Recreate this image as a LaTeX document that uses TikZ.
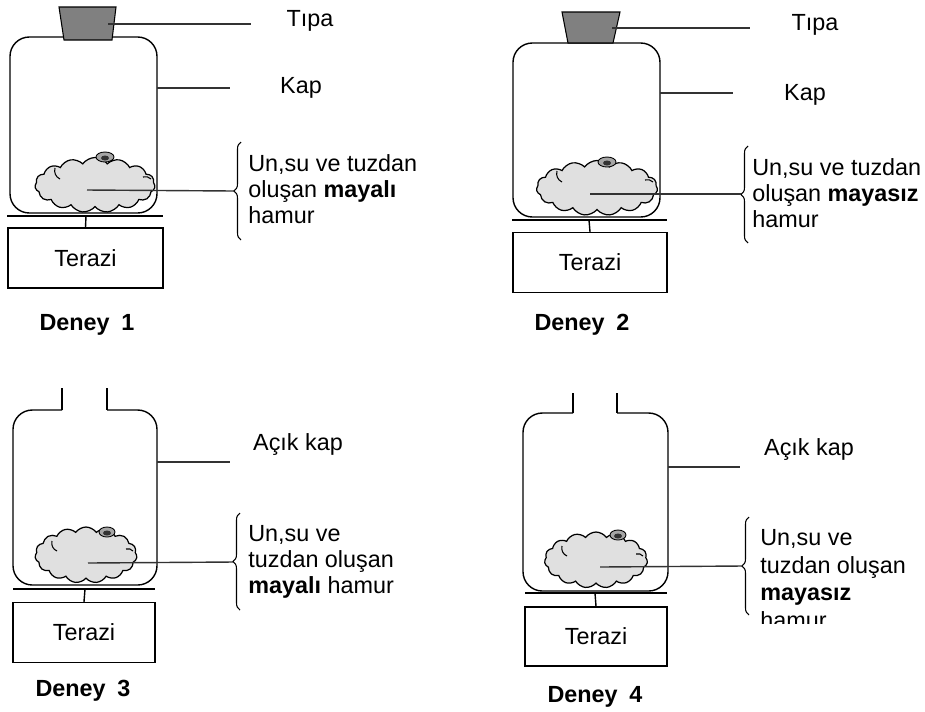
\documentclass[tikz,border=0pt]{standalone}
\usepackage{fontspec}
\setmainfont{Liberation Sans}
\usetikzlibrary{shapes.symbols,decorations.pathreplacing}

\begin{document}
\begin{tikzpicture}[x=0.02cm, y=-0.02cm,
        font=\fontsize{13.3}{15}\selectfont,
        jar/.style={line width=0.8pt, rounded corners=11pt},
        neck/.style={line width=0.8pt},
        stopper/.style={draw, line width=0.6pt, fill=black!50},
        base/.style={line width=1.3pt},
        scalebox/.style={draw, line width=0.8pt, minimum height=1.2cm},
        dough/.style={cloud, cloud puffs=15, cloud puff arc=110, cloud ignores aspect,
            draw, line width=0.7pt, fill=black!12, inner sep=0pt},
        curl/.style={line width=0.6pt},
        swirl/.style={line width=0.5pt, fill=black!35},
        leader/.style={line width=0.8pt, black!80},
        curly/.style={decorate, decoration={brace, amplitude=4pt}, line width=0.6pt},
        note/.style={anchor=west, align=left, inner sep=0pt},
        title/.style={font=\fontsize{13.3}{15}\selectfont\bfseries}]
    \useasboundingbox (0,0) rectangle (925,711);

    % Deney 1: closed jar, yeasted dough
    \node[dough, minimum width=2.4cm, minimum height=1.1cm] (dough1) at (95,185) {};
    \draw[curl] ([shift={(-40,-17)}]dough1.center) to[bend right=40] ([shift={(-35,-6)}]dough1.center);
    \draw[curl] ([shift={(48,-8)}]dough1.center) to[bend left=30] ([shift={(56,-6)}]dough1.center);
    \draw[swirl] ([shift={(10,-28)}]dough1.center) ellipse (9 and 5);
    \fill[black!80] ([shift={(10,-27)}]dough1.center) ellipse (4 and 2.5);
    \draw[jar] (10,37) rectangle (157,213);
    \draw[stopper] (59,7) -- (116,7) -- (112,40) -- (64,40) -- cycle;
    \draw[base] (7,216) -- (163,216);
    \node[scalebox, minimum width=3.1cm] (terazi1) at (85.5,258) {Terazi};
    \draw[neck] (86,216) -- (terazi1.north);
    \coordinate (tipa1) at (108,24);
    \coordinate (tipa1e) at (251,24);
    \draw[leader] (tipa1) -- (tipa1e);
    \node (tipalbl1) at (310,21) {Tıpa};
    \coordinate (kap1) at (157,88);
    \coordinate (kap1e) at (230,88);
    \draw[leader] (kap1) -- (kap1e);
    \node (kaplbl1) at (301,88) {Kap};
    \draw[curly] (241,240) -- (241,142);
    \coordinate (tip1) at (234,191);
    \draw[leader] ([shift={(-8,5)}]dough1.center) -- (tip1);
    \node[note] (hamur1) at (248,189) {Un,su ve tuzdan\\oluşan \textbf{mayalı}\\hamur};
    \node[title] (deney1) at (87,325) {Deney\enspace1};

    % Deney 2: closed jar, dough without yeast
    \node[dough, minimum width=2.42cm, minimum height=1.1cm] (dough2) at (597,188) {};
    \draw[curl] ([shift={(-40,-17)}]dough2.center) to[bend right=40] ([shift={(-35,-6)}]dough2.center);
    \draw[curl] ([shift={(48,-8)}]dough2.center) to[bend left=30] ([shift={(56,-6)}]dough2.center);
    \draw[swirl] ([shift={(10,-26)}]dough2.center) ellipse (9 and 5);
    \fill[black!80] ([shift={(10,-25)}]dough2.center) ellipse (4 and 2.5);
    \draw[jar] (513,43) rectangle (660,217);
    \draw[stopper] (562,12) -- (620,12) -- (613,43) -- (568,43) -- cycle;
    \draw[base] (512,220) -- (667,220);
    \node[scalebox, minimum width=3.08cm] (terazi2) at (590,262.5) {Terazi};
    \draw[neck] (589,220) -- (terazi2.north);
    \coordinate (tipa2) at (612,28);
    \coordinate (tipa2e) at (750,28);
    \draw[leader] (tipa2) -- (tipa2e);
    \node (tipalbl2) at (815,25) {Tıpa};
    \coordinate (kap2) at (660,93);
    \coordinate (kap2e) at (733,93);
    \draw[leader] (kap2) -- (kap2e);
    \node (kaplbl2) at (805,95) {Kap};
    \draw[curly] (748,243) -- (748,146);
    \coordinate (tip2) at (741,194);
    \draw[leader] ([shift={(-7,6)}]dough2.center) -- (tip2);
    \node[note] (hamur2) at (752,193) {Un,su ve tuzdan\\oluşan \textbf{mayasız}\\hamur};
    \node[title] (deney2) at (582,325) {Deney\enspace2};

    % Deney 3: open jar, yeasted dough
    \node[dough, minimum width=2.04cm, minimum height=1.12cm] (dough3) at (86,555) {};
    \draw[curl] ([shift={(-34,-14)}]dough3.center) to[bend right=40] ([shift={(-29,-4)}]dough3.center);
    \draw[curl] ([shift={(40,-6)}]dough3.center) to[bend left=30] ([shift={(47,-4)}]dough3.center);
    \draw[swirl] ([shift={(21,-23)}]dough3.center) ellipse (8 and 5);
    \fill[black!80] ([shift={(21,-22)}]dough3.center) ellipse (4 and 2.5);
    \draw[neck] (62,388) -- (62,410);
    \draw[neck] (107,388) -- (107,410);
    \draw[jar] (62,410) -- (13,410) -- (13,585) -- (157,585) -- (157,410) -- (107,410);
    \draw[base] (13,589) -- (155,589);
    \node[scalebox, minimum width=2.84cm] (terazi3) at (84,632.5) {Terazi};
    \draw[neck] (85,589) -- (terazi3.north);
    \coordinate (kap3) at (157,462);
    \coordinate (kap3e) at (230,462);
    \draw[leader] (kap3) -- (kap3e);
    \node (kaplbl3) at (298,444) {Açık kap};
    \draw[curly] (240,610) -- (240,513);
    \coordinate (tip3) at (233,562);
    \draw[leader] ([shift={(2,8)}]dough3.center) -- (tip3);
    \node[note] (hamur3) at (248,562) {Un,su ve\\tuzdan oluşan\\\textbf{mayalı} hamur};
    \node[title] (deney3) at (83,691) {Deney\enspace3};

    % Deney 4: open jar, dough without yeast
    \node[dough, minimum width=2.06cm, minimum height=1.12cm] (dough4) at (596,560) {};
    \draw[curl] ([shift={(-34,-14)}]dough4.center) to[bend right=40] ([shift={(-29,-4)}]dough4.center);
    \draw[curl] ([shift={(40,-6)}]dough4.center) to[bend left=30] ([shift={(47,-4)}]dough4.center);
    \draw[swirl] ([shift={(22,-25)}]dough4.center) ellipse (8 and 5);
    \fill[black!80] ([shift={(22,-24)}]dough4.center) ellipse (4 and 2.5);
    \draw[neck] (573,393) -- (573,413);
    \draw[neck] (617,393) -- (617,413);
    \draw[jar] (573,413) -- (523,413) -- (523,591) -- (668,591) -- (668,413) -- (617,413);
    \draw[base] (525,593) -- (667,593);
    \node[scalebox, minimum width=2.84cm, minimum height=1.18cm] (terazi4) at (596,636.5) {Terazi};
    \draw[neck] (595,593) -- (terazi4.north);
    \coordinate (kap4) at (668,467);
    \coordinate (kap4e) at (740,467);
    \draw[leader] (kap4) -- (kap4e);
    \node (kaplbl4) at (809,449) {Açık kap};
    \draw[curly] (749,615) -- (749,517);
    \coordinate (tip4) at (742,566);
    \draw[leader] ([shift={(4,7)}]dough4.center) -- (tip4);
    \begin{scope}
        \clip (752,500) rectangle (925,623);
        \node[note, font=\fontsize{13.3}{15.7}\selectfont] (hamur4) at (760,579)
            {Un,su ve\\tuzdan oluşan\\\textbf{mayasız}\\hamur};
    \end{scope}
    \node[title] (deney4) at (595,697) {Deney\enspace4};
\end{tikzpicture}
\end{document}
